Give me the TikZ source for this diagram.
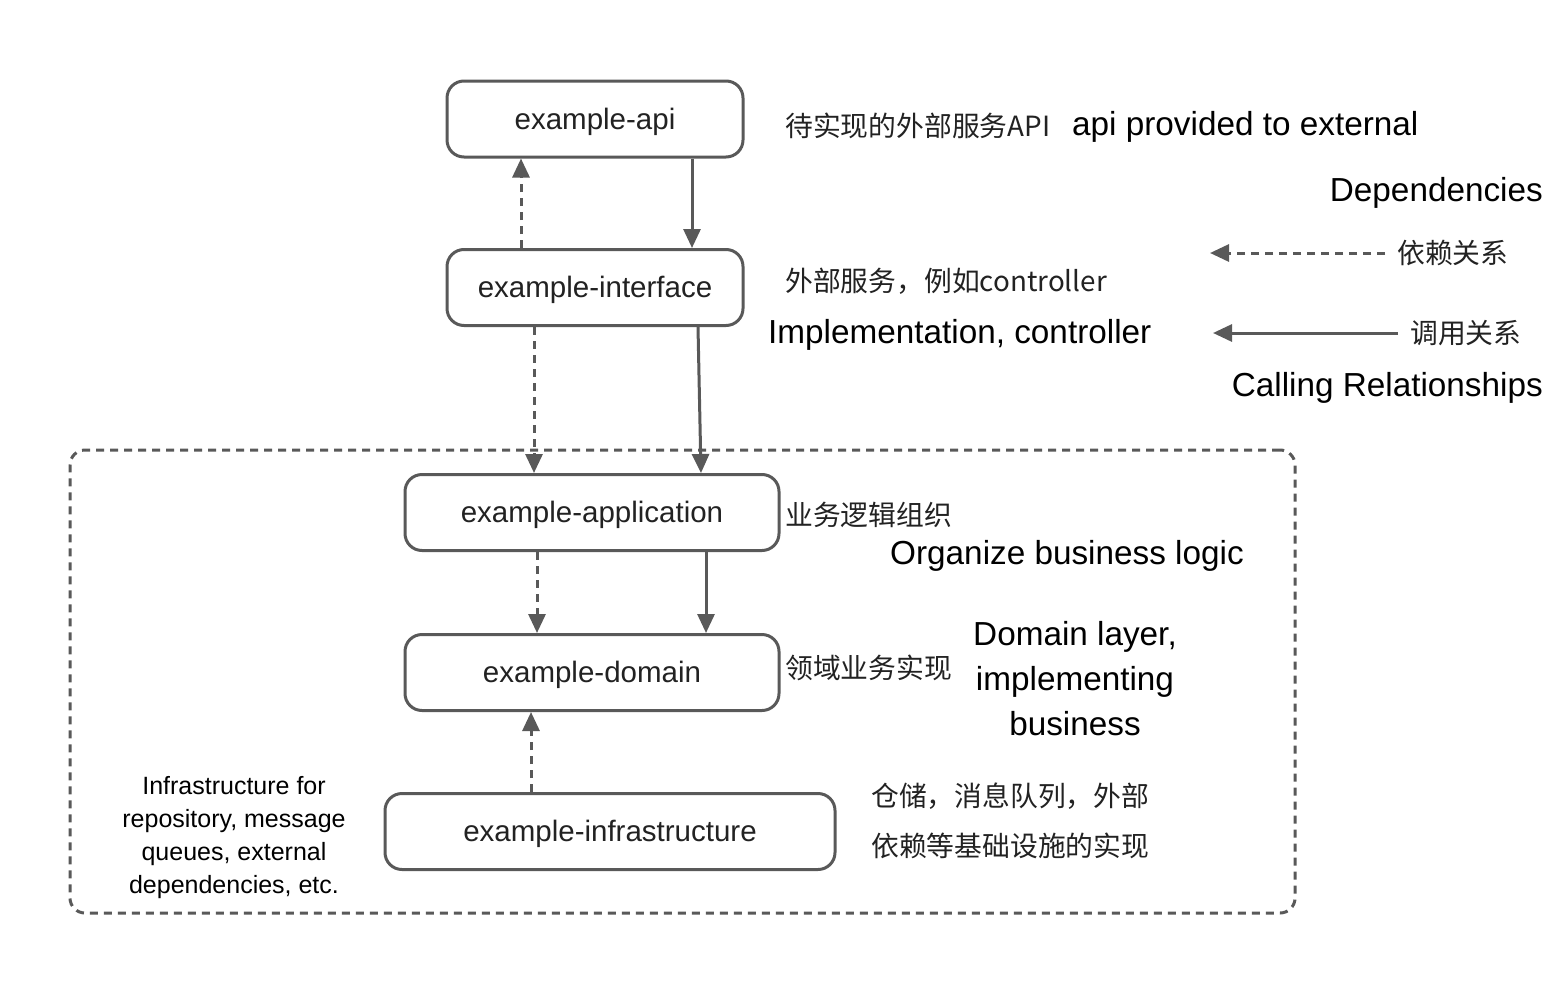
\documentclass[tikz,border=0pt]{standalone}
\usepackage{fontspec}
\setmainfont{Liberation Sans}
\newfontfamily\cjk{Noto Sans CJK SC}
\usetikzlibrary{arrows.meta}
\definecolor{ln}{HTML}{595959}
\definecolor{tx}{HTML}{222222}
\tikzset{
  layerbox/.style={draw=ln, line width=3pt, rounded corners=17pt, fill=white,
    minimum height=76pt, text=tx, font=\fontsize{29.5}{34}\selectfont, inner sep=0pt,
    text height=26pt, text depth=6pt},
  callarrow/.style={draw=ln, line width=3pt, -{Triangle[length=19pt,width=17pt]}},
  deparrow/.style={draw=ln, line width=3pt, dash pattern=on 8pt off 6pt, -{Triangle[length=19pt,width=17pt]}},
  groupbox/.style={draw=ln, line width=3pt, dash pattern=on 8pt off 6pt, rounded corners=15pt, inner sep=0pt},
  cjktext/.style={font=\cjk\fontsize{27.8}{32}\selectfont, text=tx, inner sep=0pt},
  bigtext/.style={font=\fontsize{33.3}{45}\selectfont, text=black, inner sep=0pt},
  smalltext/.style={font=\fontsize{25}{33}\selectfont, text=black, inner sep=0pt, align=center},
}
\begin{document}
\begin{tikzpicture}[x=1pt,y=-1pt]
\useasboundingbox (0,0) rectangle (1554,998);
% dashed group
\node[groupbox, minimum width=1225pt, minimum height=463pt] (group) at (682.5,681.5) {};
% layer boxes
\node[layerbox, minimum width=296pt] (api) at (595,119) {example-api};
\node[layerbox, minimum width=296pt] (intf) at (595,287.5) {example-interface};
\node[layerbox, minimum width=374pt] (app) at (592,512.5) {example-application};
\node[layerbox, minimum width=374pt] (dom) at (592,672.5) {example-domain};
\node[layerbox, minimum width=450pt] (infra) at (610,831.5) {example-infrastructure};
% connectors
\draw[deparrow] ([xshift=-74pt]intf.north) -- ([xshift=-74pt]api.south);
\draw[callarrow] ([xshift=97pt]api.south) -- ([xshift=97pt]intf.north);
\draw[deparrow] ([xshift=-61pt]intf.south) -- ([xshift=-58pt]app.north);
\draw[callarrow] ([xshift=103pt]intf.south) -- ([xshift=109pt]app.north);
\draw[deparrow] ([xshift=-55pt]app.south) -- ([xshift=-55pt]dom.north);
\draw[callarrow] ([xshift=114pt]app.south) -- ([xshift=114pt]dom.north);
\draw[deparrow] ([xshift=-79pt]infra.north) -- ([xshift=-61pt]dom.south);
% annotations
\node[cjktext, anchor=west] (t1) at (785,126) {待实现的外部服务API};
\node[bigtext, anchor=west] (t2) at (1072,127) {api provided to external};
\node[bigtext, anchor=east] (t3) at (1543,193) {Dependencies};
\node[cjktext, anchor=west] (t4) at (785,281) {外部服务，例如controller};
\node[bigtext, anchor=west] (t5) at (768,335) {Implementation, controller};
\node[bigtext, anchor=east] (t6) at (1543,388) {Calling Relationships};
\node[cjktext, anchor=west] (t7) at (785,515) {业务逻辑组织};
\node[bigtext, anchor=west] (t8) at (890,556) {Organize business logic};
\node[cjktext, anchor=west] (t9) at (785,668) {领域业务实现};
\node[bigtext, align=center] (t10) at (1075,679) {Domain layer,\\implementing\\business};
\node[cjktext, anchor=west, align=left, font=\cjk\fontsize{27.8}{50}\selectfont] (t11) at (871,821) {仓储，消息队列，外部\\依赖等基础设施的实现};
\node[smalltext] (t12) at (234,838) {Infrastructure for\\repository, message\\queues, external\\dependencies, etc.};
% legend
\node[cjktext, anchor=west] (dep) at (1397,253) {依赖关系};
\node[cjktext, anchor=west] (call) at (1410,333) {调用关系};
\coordinate (depend) at (1210,254);
\coordinate (callend) at (1213,331);
\draw[deparrow] ([xshift=-12pt]dep.west) -- (depend |- dep.west);
\draw[callarrow] ([xshift=-12pt]call.west) -- (callend |- call.west);
\end{tikzpicture}
\end{document}
